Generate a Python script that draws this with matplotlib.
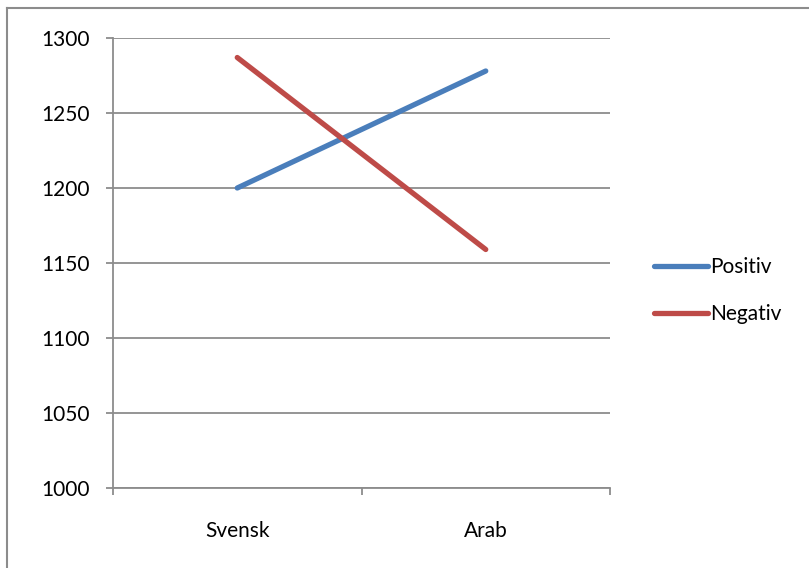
import matplotlib.pyplot as plt
from matplotlib.lines import Line2D

plt.rcParams['font.family'] = ['Lato', 'DejaVu Sans']

categories = ['Svensk', 'Arab']
positiv = [1200, 1278]
negativ = [1287, 1159]
yticks = [1000, 1050, 1100, 1150, 1200, 1250, 1300]

W, H = 809, 568
fig = plt.figure(figsize=(W / 100, H / 100), dpi=100)
ax = fig.add_axes([113 / W, 1 - 488 / H, (610 - 113) / W, (488 - 38) / H])

grid_col = '#8c8c8c'
fs = 15
x = list(range(len(categories)))
ax.plot(x, positiv, color='#4A7EBB', lw=3.8, solid_capstyle='round', label='Positiv')
ax.plot(x, negativ, color='#BE4B48', lw=3.8, solid_capstyle='round', label='Negativ')

ax.set_xlim(-0.5, len(categories) - 0.5)
ax.set_ylim(1000, 1300)
ax.set_yticks(yticks)
ax.yaxis.grid(True, color=grid_col, lw=1.3)
ax.set_axisbelow(True)

# category boundaries get the tick marks, centres get the labels
ax.set_xticks([i - 0.5 for i in range(len(categories) + 1)])
ax.set_xticklabels([])
ax.set_xticks(x, minor=True)
ax.set_xticklabels(categories, minor=True)
ax.tick_params(axis='x', which='major', length=5, color=grid_col, width=1.3, direction='out')
ax.tick_params(axis='x', which='minor', length=0, pad=24, labelsize=fs)
ax.tick_params(axis='y', length=5, color=grid_col, width=1.3, pad=12, labelsize=fs)

for s in ['top', 'right']:
    ax.spines[s].set_visible(False)
for s in ['left', 'bottom']:
    ax.spines[s].set_color(grid_col)
    ax.spines[s].set_linewidth(1.3)

ax.legend(loc='center left', bbox_to_anchor=(1.05, 0.438), frameon=False,
          fontsize=fs, handlelength=2.6, handletextpad=0.1, labelspacing=1.3)

# outer chart border (only left and top visible in the crop)
fig.add_artist(Line2D([6.5 / W, 6.5 / W], [0, 1 - 8 / H], color=grid_col, lw=1.5, transform=fig.transFigure))
fig.add_artist(Line2D([6.5 / W, 1], [1 - 8 / H, 1 - 8 / H], color=grid_col, lw=1.5, transform=fig.transFigure))

fig.savefig('out.png', dpi=100)
